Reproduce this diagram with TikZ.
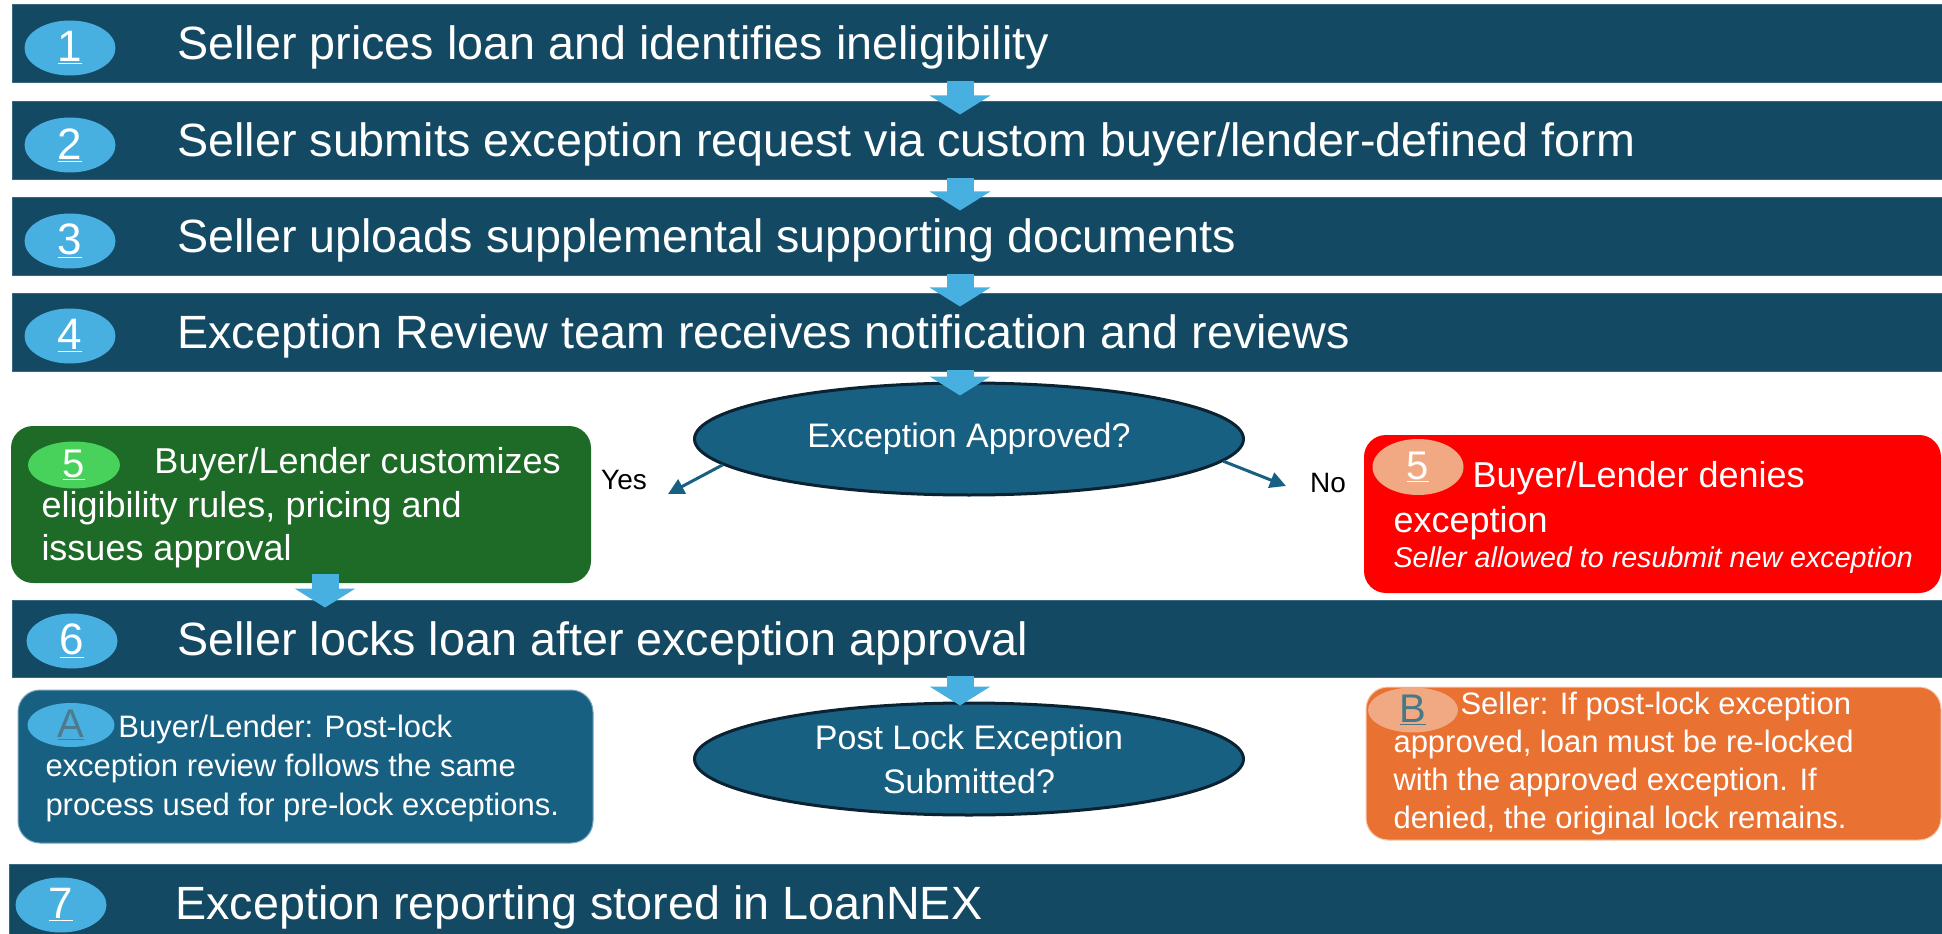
\documentclass[tikz,border=0pt]{standalone}
\usepackage{fontspec}
\setmainfont{Liberation Sans}
\usetikzlibrary{shapes.geometric,arrows.meta,calc}

\tikzset{every picture/.style={line width=0.75pt}}
\tikzset{
  bar/.style={draw={rgb, 255:red, 58; green, 104; blue, 128}, fill={rgb, 255:red, 19; green, 73; blue, 98}, minimum width=1447.5pt, minimum height=58.5pt, inner sep=0pt},
  numdot/.style={ellipse, fill={rgb, 255:red, 72; green, 176; blue, 225}, minimum width=68.25pt, minimum height=41.25pt, inner sep=0pt, text=white, font=\fontsize{33}{33}\selectfont},
  bartext/.style={anchor=base west, inner sep=0pt, text=white, font=\fontsize{35}{42}\selectfont},
  decision/.style={ellipse, draw={rgb, 255:red, 10; green, 34; blue, 50}, line width=2.25pt, fill={rgb, 255:red, 24; green, 96; blue, 130}, minimum width=411.75pt, minimum height=84pt, inner sep=0pt, text=white, align=center, font=\fontsize{25.5}{33}\selectfont},
  blockarrow/.style={draw={rgb, 255:red, 72; green, 176; blue, 225}, line width=20.25pt, -{Triangle[length=14.25pt,width=45pt]}},
  choicearrow/.style={draw={rgb, 255:red, 24; green, 96; blue, 130}, line width=2.25pt, -{Triangle[length=12pt,width=12pt]}},
  card/.style={rounded corners=16.5pt, inner sep=0pt, minimum width=431.25pt, minimum height=114.75pt},
  cardtext/.style={anchor=north west, inner sep=0pt, text=white, align=left},
  tag/.style={ellipse, inner sep=0pt, font=\fontsize{30}{30}\selectfont},
}

\begin{document}
\begin{tikzpicture}[x=0.75pt,y=0.75pt,yscale=-1,xscale=1]
\useasboundingbox (0,0) rectangle (1942,934);
\clip (0,0) rectangle (1942,934);

%Shape: Rectangle bars
\node[bar] (b1) at (977,44) {};
\node[bar] (b2) at (977,141) {};
\node[bar] (b3) at (977,237) {};
\node[bar, minimum height=57.75pt] (b4) at (977,332.5) {};
\node[bar, minimum height=57.75pt] (b6) at (977,638.5) {};
\node[bar, minimum width=1449.75pt] (b7) at (975.5,903) {};

%Shape: Rounded Rectangle boxes
\node[card, fill={rgb, 255:red, 29; green, 107; blue, 38}, minimum width=435pt, minimum height=117.75pt] (yesbox) at (301,504.5) {};
\node[card, fill={rgb, 255:red, 255; green, 0; blue, 0}, minimum width=432.75pt, minimum height=118.5pt] (nobox) at (1652.5,514) {};
\node[card, draw={rgb, 255:red, 120; green, 165; blue, 188}, fill={rgb, 255:red, 24; green, 96; blue, 130}] (boxa) at (305.5,766.5) {};
\node[card, draw={rgb, 255:red, 248; green, 200; blue, 172}, fill={rgb, 255:red, 233; green, 113; blue, 50}] (boxb) at (1653.5,763.5) {};

%Shape: Ellipse decisions
\node[decision] (q1) at (969,439) {Exception Approved?};
\node[decision] (q2) at (969,759) {Post Lock Exception\\Submitted?};

%Shape: Ellipse step numbers
\node[numdot] (n1) at (70,48) {\underline{1}};
\node[numdot] (n2) at (70,145) {\underline{2}};
\node[numdot] (n3) at (70,241) {\underline{3}};
\node[numdot] (n4) at (70,336) {\underline{4}};
\node[numdot] (n6) at (72,641) {\underline{6}};
\node[numdot] (n7) at (61,905) {\underline{7}};
\node[tag, fill={rgb, 255:red, 72; green, 210; blue, 92}, text=white, minimum width=69pt, minimum height=35.25pt] (n5y) at (74,465) {\underline{5}};
\node[tag, fill={rgb, 255:red, 241; green, 169; blue, 131}, text=white, minimum width=68.25pt, minimum height=42pt] (n5n) at (1418,467) {\underline{5}};
\node[tag, fill={rgb, 255:red, 72; green, 176; blue, 225}, text={rgb, 255:red, 78; green, 122; blue, 140}, minimum width=65.25pt, minimum height=33pt] (na) at (71,725) {\underline{A}};
\node[tag, fill={rgb, 255:red, 241; green, 169; blue, 131}, text={rgb, 255:red, 70; green, 120; blue, 134}, minimum width=67.5pt, minimum height=33.75pt] (nb) at (1413,710) {\underline{B}};

%Block Arrows
\coordinate (acol) at (960,0);
\draw[blockarrow] ($(b1.south -| acol)+(0,-2)$) -- ($(b2.north -| acol)+(0,13)$);
\draw[blockarrow] ($(b2.south -| acol)+(0,-2)$) -- ($(b3.north -| acol)+(0,13)$);
\draw[blockarrow] ($(b3.south -| acol)+(0,-2)$) -- ($(b4.north -| acol)+(0,13)$);
\draw[blockarrow] ($(b4.south -| acol)+(0,-2)$) -- ($(q1.north -| acol)+(0,14)$);
\draw[blockarrow] ($(yesbox.south)+(24,-10)$) -- ($(b6.north)+(-652,8)$);
\draw[blockarrow] ($(b6.south -| acol)+(0,-2)$) -- ($(q2.north -| acol)+(0,4)$);

%Straight Lines choices
\coordinate (yesend) at (668,494);
\coordinate (noend) at (1286,486);
\draw[choicearrow] (q1.186) -- (yesend);
\draw[choicearrow] (q1.355) -- (noend);

% Text Node
\node[font=\fontsize{21}{21}\selectfont] (yes) at (624,480) {Yes};
\node[font=\fontsize{21}{21}\selectfont] (no) at (1328,483) {No};

% Text Node
\node[bartext] (t1) at (177,60) {Seller prices loan and identifies ineligibility};
\node[bartext] (t2) at (177,157) {Seller submits exception request via custom buyer/lender-defined form};
\node[bartext] (t3) at (177,253) {Seller uploads supplemental supporting documents};
\node[bartext] (t4) at (177,349) {Exception Review team receives notification and reviews};
\node[bartext] (t6) at (177,655) {Seller locks loan after exception approval};
\node[bartext] (t7) at (175,919) {Exception reporting stored in LoanNEX};

% Text Node
\node[cardtext, font=\fontsize{27}{32.6}\selectfont] (yestext) at (41,447) {\hspace*{84.75pt}Buyer/Lender customizes\\eligibility rules, pricing and\\issues approval};
\node[cardtext, font=\fontsize{27}{33.75}\selectfont] (notext) at (1393,461) {\hspace*{59.25pt}Buyer/Lender denies\\exception};
\node[anchor=base west, inner sep=0pt, text=white, font=\fontsize{21.5}{26}\selectfont\itshape] (nonote) at (1393,567) {Seller allowed to resubmit new exception};
\node[cardtext, font=\fontsize{23.25}{28.9}\selectfont] (atext) at (45,715) {\hspace*{54.75pt}Buyer/Lender: Post-lock\\exception review follows the same\\process used for pre-lock exceptions.};
\node[cardtext, font=\fontsize{23.25}{28.5}\selectfont] (btext) at (1393,692) {\hspace*{50.25pt}Seller: If post-lock exception\\approved, loan must be re-locked\\with the approved exception. If\\denied, the original lock remains.};

\end{tikzpicture}
\end{document}
